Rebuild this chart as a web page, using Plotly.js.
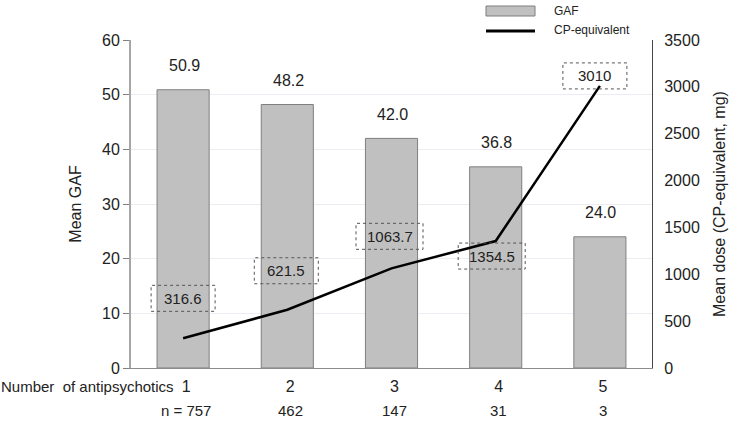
<!DOCTYPE html>
<html>
<head>
<meta charset="utf-8">
<script src="https://cdn.plot.ly/plotly-3.0.1.min.js"></script>
<style>html,body{margin:0;padding:0;background:#fff;}#chart{width:735px;height:424px;}</style>
</head>
<body>
<div id="chart"></div>
<script>
// ---- data ----
const categories = ['1', '2', '3', '4', '5'];
const gafMeans = [50.9, 48.2, 42.0, 36.8, 24.0];
const cpEquivalent = [316.6, 621.5, 1063.7, 1354.5, 3010];
const cpLabels = ['316.6', '621.5', '1063.7', '1354.5', '3010'];
const nCounts = [757, 462, 147, 31, 3];
const seriesNames = ['GAF', 'CP-equivalent'];

// ---- label offsets (pixels, style only) ----
const cpBoxShift = [[0, 40], [-1, 39], [-2, 32], [-4, -15], [-5, 10]];

const FONT = 'Liberation Sans, Arial, sans-serif';
const xs = categories.map((c, i) => i);

const traces = [
  {
    type: 'bar', x: xs, y: gafMeans, name: seriesNames[0], yaxis: 'y',
    width: 0.5,
    marker: {color: '#c0c0c0', line: {color: '#7f7f7f', width: 1}},
    hoverinfo: 'skip'
  },
  {
    type: 'scatter', mode: 'lines', x: xs, y: cpEquivalent, name: seriesNames[1], yaxis: 'y2',
    line: {color: '#000', width: 2.5}, hoverinfo: 'skip'
  }
];

const annotations = [];
const shapes = [];

gafMeans.forEach((v, i) => {
  annotations.push({x: xs[i], y: v, xref: 'x', yref: 'y', text: v.toFixed(1), showarrow: false,
    yanchor: 'middle', yshift: 24, xshift: 1, font: {family: FONT, size: 16, color: '#222'}});
});

cpEquivalent.forEach((v, i) => {
  const [dx, dy] = cpBoxShift[i];
  const w = cpLabels[i].length > 5 ? 67 : 64;
  annotations.push({x: xs[i], y: v, xref: 'x', yref: 'y2', text: cpLabels[i], showarrow: false,
    xshift: dx, yshift: dy, xanchor: 'center', yanchor: 'middle', font: {family: FONT, size: 15, color: '#222'}});
  shapes.push({type: 'rect', xref: 'x', yref: 'y2', xsizemode: 'pixel', ysizemode: 'pixel',
    xanchor: xs[i], yanchor: v, x0: dx - w / 2, x1: dx + w / 2, y0: dy - 13, y1: dy + 13,
    line: {color: '#555', width: 1, dash: 'dot'}, fillcolor: 'rgba(0,0,0,0)', layer: 'above'});
});

// bottom row labels
annotations.push({x: 0, y: 0, xref: 'paper', yref: 'paper', xshift: 45, yshift: -18,
  text: 'Number  of antipsychotics', showarrow: false, xanchor: 'right', yanchor: 'middle',
  font: {family: FONT, size: 15, color: '#222'}});
nCounts.forEach((n, i) => {
  annotations.push({x: xs[i], y: 0, xref: 'x', yref: 'paper', yshift: -42, xshift: 3,
    text: (i === 0 ? 'n = ' : '') + n, showarrow: false, xanchor: 'center', yanchor: 'middle',
    font: {family: FONT, size: 15, color: '#222'}});
});

// manual legend
shapes.push({type: 'rect', xref: 'paper', yref: 'paper', x0: (486 - 131) / 521, x1: (535 - 131) / 521,
  y0: 1 + (40 - 16) / 328, y1: 1 + (40 - 6) / 328,
  fillcolor: '#c0c0c0', line: {color: '#7f7f7f', width: 1}});
shapes.push({type: 'line', xref: 'paper', yref: 'paper', x0: (486 - 131) / 521, x1: (535 - 131) / 521,
  y0: 1 + (40 - 31) / 328, y1: 1 + (40 - 31) / 328, line: {color: '#000', width: 3}});
annotations.push({x: (552 - 131) / 521, y: 1 + (40 - 11) / 328, xref: 'paper', yref: 'paper',
  text: seriesNames[0], showarrow: false, xanchor: 'left', yanchor: 'middle', font: {family: FONT, size: 12, color: '#222'}});
annotations.push({x: (552 - 131) / 521, y: 1 + (40 - 30) / 328, xref: 'paper', yref: 'paper',
  text: seriesNames[1], showarrow: false, xanchor: 'left', yanchor: 'middle', font: {family: FONT, size: 12, color: '#222'}});

const layout = {
  width: 735, height: 424,
  margin: {l: 131, r: 83, t: 40, b: 56},
  paper_bgcolor: '#fff', plot_bgcolor: '#fff',
  showlegend: false,
  font: {family: FONT, color: '#222'},
  xaxis: {
    range: [-0.5, 4.5], tickvals: xs, ticktext: categories, showgrid: false, zeroline: false,
    showline: true, linecolor: '#8c8c8c', linewidth: 1, ticks: '', tickfont: {family: FONT, size: 16, color: '#222'},
    ticklabelstandoff: 4, ticklabelshift: 3, fixedrange: true
  },
  yaxis: {
    range: [0, 60], dtick: 10, showgrid: true, gridcolor: '#ececf2', gridwidth: 1, zeroline: false,
    showline: true, linecolor: '#a6a6a6', linewidth: 2, ticks: 'outside', ticklen: 6, tickcolor: '#808080',
    tickfont: {family: FONT, size: 16, color: '#222'},
    title: {text: 'Mean GAF', font: {family: FONT, size: 16, color: '#222'}, standoff: 16}
  },
  yaxis2: {
    overlaying: 'y', side: 'right', range: [0, 3500], dtick: 500, showgrid: false, zeroline: false,
    showline: true, linecolor: '#444', linewidth: 1, ticks: '', ticklabelstandoff: 8,
    tickfont: {family: FONT, size: 16, color: '#222'},
    title: {text: 'Mean dose (CP-equivalent, mg)', font: {family: FONT, size: 16, color: '#222'}, standoff: 14}
  },
  annotations: annotations,
  shapes: shapes
};

Plotly.newPlot('chart', traces, layout, {displayModeBar: false, staticPlot: true});
</script>
</body>
</html>
